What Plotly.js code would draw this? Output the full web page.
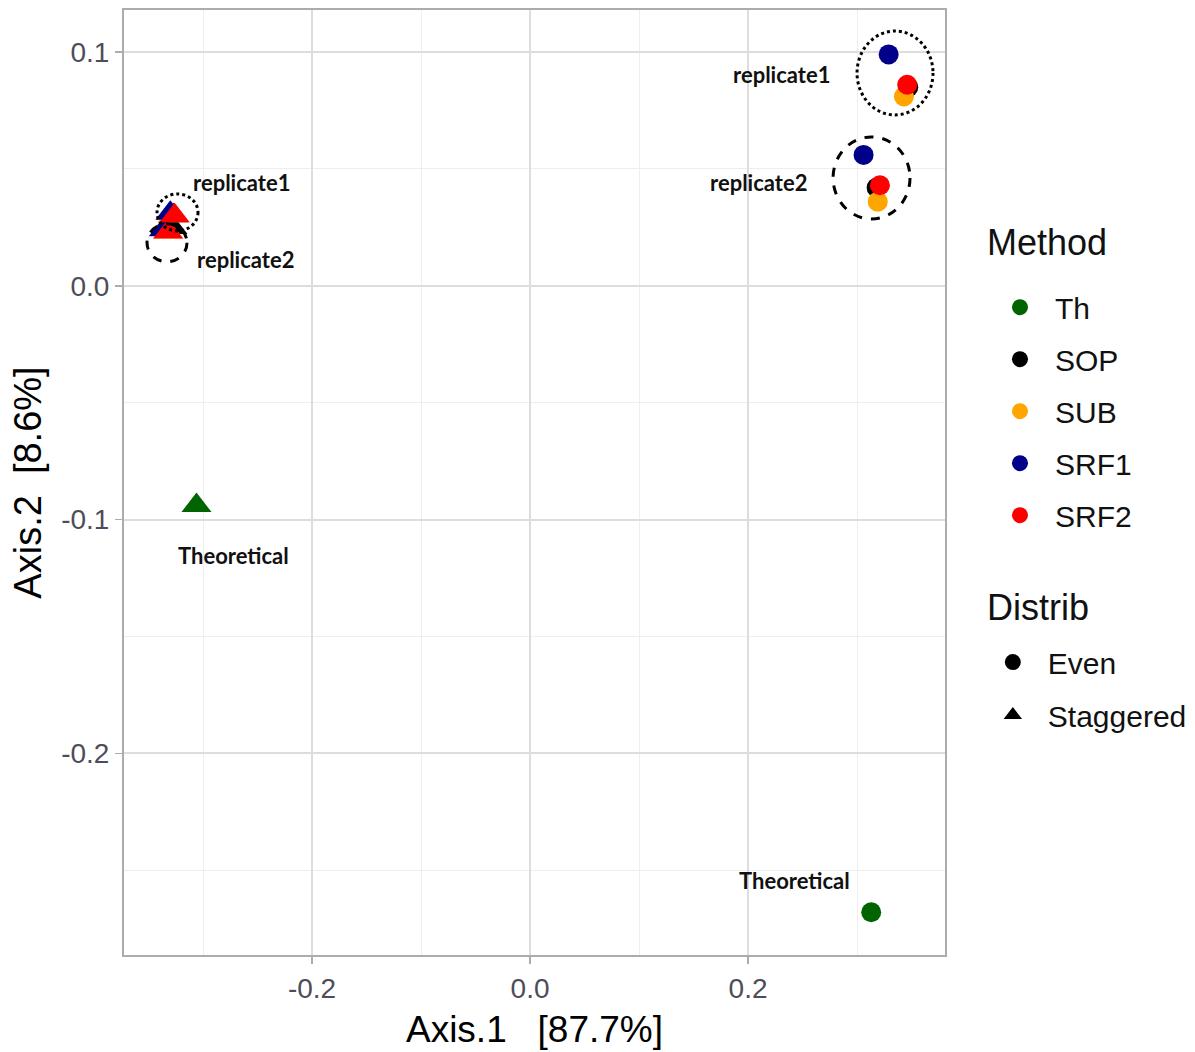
<!DOCTYPE html>
<html>
<head>
<meta charset="utf-8">
<script src="https://cdn.plot.ly/plotly-3.0.1.min.js"></script>
<style>html,body{margin:0;padding:0;background:#fff;}#chart{width:1195px;height:1052px;}</style>
</head>
<body>
<div id="chart"></div>
<script>
// ---- data ----
const methods = ['Th', 'SOP', 'SUB', 'SRF1', 'SRF2'];
const distribs = ['Even', 'Staggered'];
// samples
const sampleMethod  = ['Th', 'Th', 'SOP', 'SOP', 'SOP', 'SOP', 'SUB', 'SUB', 'SUB', 'SUB', 'SRF1', 'SRF1', 'SRF1', 'SRF1', 'SRF2', 'SRF2', 'SRF2', 'SRF2'];
const sampleDistrib = ['Even', 'Staggered', 'Even', 'Even', 'Staggered', 'Staggered', 'Even', 'Even', 'Staggered', 'Staggered', 'Even', 'Even', 'Staggered', 'Staggered', 'Even', 'Even', 'Staggered', 'Staggered'];
const sampleAxis1   = [0.313, -0.306, 0.347, 0.318, -0.327, -0.328, 0.343, 0.319, -0.328, -0.332, 0.329, 0.306, -0.330, -0.336, 0.346, 0.321, -0.326, -0.332];
const sampleAxis2   = [-0.268, -0.094, 0.085, 0.042, 0.030, 0.025, 0.081, 0.036, 0.030, 0.023, 0.099, 0.056, 0.031, 0.024, 0.086, 0.043, 0.030, 0.023];
const xTickVals = [-0.2, 0.0, 0.2];
const xTickText = ['-0.2', '0.0', '0.2'];
const yTickVals = [-0.2, -0.1, 0.0, 0.1];
const yTickText = ['-0.2', '-0.1', '0.0', '0.1'];
const xTitle = 'Axis.1   [87.7%]';
const yTitle = 'Axis.2  [8.6%]';
const methodLegendTitle = 'Method';
const distribLegendTitle = 'Distrib';

// ---- styles ----
const methodColors = {Th: '#006400', SOP: '#000000', SUB: '#FFA500', SRF1: '#00008B', SRF2: '#FF0000'};
const distribSymbols = {Even: 'circle', Staggered: 'triangle-up'};
const distribSizes = {Even: 20, Staggered: 26};
const FONT = 'Liberation Sans, Arial, sans-serif';

const traces = [];
methods.forEach(m => {
  distribs.forEach(d => {
    const xs = [], ys = [];
    sampleMethod.forEach((sm, i) => {
      if (sm === m && sampleDistrib[i] === d) { xs.push(sampleAxis1[i]); ys.push(sampleAxis2[i]); }
    });
    if (xs.length) {
      traces.push({
        type: 'scatter', mode: 'markers', x: xs, y: ys, showlegend: false,
        marker: {color: methodColors[m], symbol: distribSymbols[d], size: distribSizes[d], line: {width: 0}},
        hoverinfo: 'x+y'
      });
    }
  });
});
// legend entries
methods.forEach(m => {
  traces.push({type: 'scatter', mode: 'markers', x: [null], y: [null], name: m, legend: 'legend', legendgroup: 'm_' + m,
    marker: {color: methodColors[m], symbol: 'circle', size: 18, line: {width: 0}}});
});
distribs.forEach(d => {
  traces.push({type: 'scatter', mode: 'markers', x: [null], y: [null], name: d, legend: 'legend2', legendgroup: 'd_' + d,
    marker: {color: '#000000', symbol: distribSymbols[d], size: 18, line: {width: 0}}});
});

const annFont = {family: 'Lato, sans-serif', size: 22, color: '#111', weight: 'bold'};
const ann = (x, y, text) => ({x, y, xref: 'x', yref: 'y', text: '<b>' + text + '</b>', showarrow: false, font: annFont});
const legTitle = (y, text) => ({x: 1.0487, y, xref: 'paper', yref: 'paper', xanchor: 'left', yanchor: 'middle',
  text, showarrow: false, font: {size: 36, color: '#111', family: FONT}});

const axisCommon = {
  showgrid: true, gridcolor: '#DDDDDD', gridwidth: 2,
  zeroline: false, showline: true, mirror: true, linecolor: '#ACACAC', linewidth: 2,
  ticks: 'outside', ticklen: 7, tickcolor: '#ACACAC', tickwidth: 1.5,
  tickfont: {size: 28, color: '#4D4D5A', family: FONT}
};

const layout = {
  width: 1195, height: 1052,
  margin: {l: 124, r: 250, t: 10, b: 97, autoexpand: false},
  paper_bgcolor: '#fff', plot_bgcolor: '#fff',
  font: {family: FONT, color: '#000'},
  xaxis: Object.assign({}, axisCommon, {
    range: [-0.3725, 0.3807], tickmode: 'array', tickvals: xTickVals, ticktext: xTickText,
    minor: {dtick: 0.1, tick0: 0, showgrid: true, gridcolor: '#EEEEEE', gridwidth: 1, ticks: ''},
    title: {text: xTitle, font: {size: 37, color: '#000', family: FONT}, standoff: 14}
  }),
  yaxis: Object.assign({}, axisCommon, {
    range: [-0.2863, 0.118], tickmode: 'array', tickvals: yTickVals, ticktext: yTickText,
    minor: {dtick: 0.05, tick0: 0, showgrid: true, gridcolor: '#EEEEEE', gridwidth: 1, ticks: ''},
    title: {text: yTitle, font: {size: 38, color: '#000', family: FONT}, standoff: 8}
  }),
  legend: {
    x: 1.0487, y: 0.713, xanchor: 'left', yanchor: 'top', itemwidth: 60,
    font: {size: 30, color: '#111', family: FONT}, tracegroupgap: 10, bgcolor: 'rgba(0,0,0,0)'
  },
  legend2: {
    x: 1.040, y: 0.3375, xanchor: 'left', yanchor: 'top', itemwidth: 60,
    font: {size: 30, color: '#111', family: FONT}, tracegroupgap: 11, bgcolor: 'rgba(0,0,0,0)'
  },
  shapes: [
    {type: 'circle', xref: 'x', yref: 'y', x0: 0.300, x1: 0.3697, y0: 0.0731, y1: 0.109, line: {color: '#000', width: 3, dash: 'dot'}},
    {type: 'circle', xref: 'x', yref: 'y', x0: 0.278, x1: 0.3486, y0: 0.0286, y1: 0.0637, line: {color: '#000', width: 3, dash: 'dash'}},
    {type: 'circle', xref: 'x', yref: 'y', x0: -0.3422, x1: -0.3046, y0: 0.0235, y1: 0.0393, line: {color: '#000', width: 3, dash: 'dot'}},
    {type: 'circle', xref: 'x', yref: 'y', x0: -0.3514, x1: -0.3147, y0: 0.0103, y1: 0.0265, line: {color: '#000', width: 3, dash: 'dash'}}
  ],
  annotations: [
    ann(0.2304, 0.0902, 'replicate1'),
    ann(0.2092, 0.0440, 'replicate2'),
    ann(-0.2651, 0.0444, 'replicate1'),
    ann(-0.2606, 0.0111, 'replicate2'),
    ann(-0.2725, -0.1154, 'Theoretical'),
    ann(0.2422, -0.2543, 'Theoretical'),
    legTitle((955 - 243) / 945, methodLegendTitle),
    legTitle((955 - 607) / 945, distribLegendTitle)
  ]
};

Plotly.newPlot('chart', traces, layout, {staticPlot: true, displayModeBar: false});
</script>
</body>
</html>
